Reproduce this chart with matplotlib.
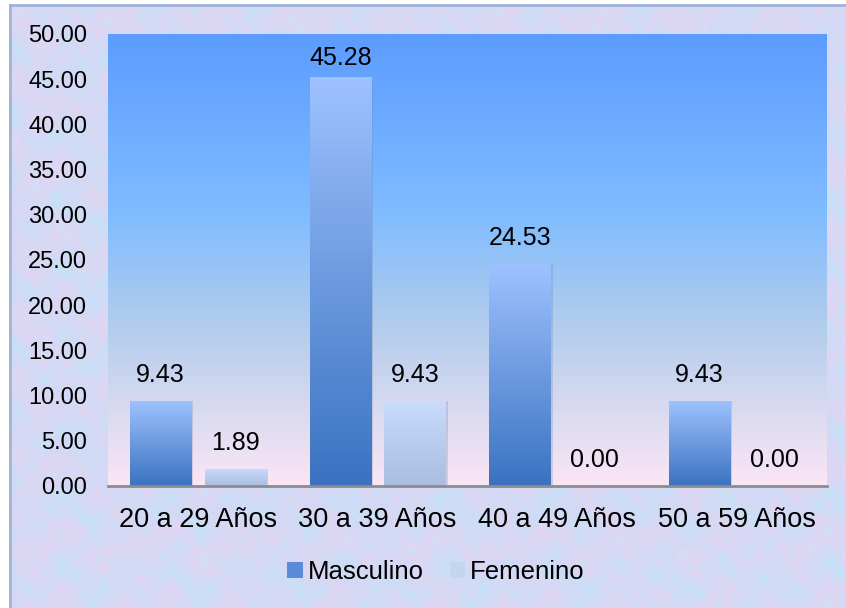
import numpy as np
import matplotlib.pyplot as plt
from matplotlib.colors import LinearSegmentedColormap
from matplotlib.patches import Patch, Rectangle

plt.rcParams['font.family'] = ['Liberation Sans', 'DejaVu Sans']

# Data
categories = ['20 a 29 Años', '30 a 39 Años', '40 a 49 Años', '50 a 59 Años']
masculino = [9.43, 45.28, 24.53, 9.43]
femenino = [1.89, 9.43, 0.00, 0.00]
series_names = ['Masculino', 'Femenino']
yticks = [0, 5, 10, 15, 20, 25, 30, 35, 40, 45, 50]

W, H = 846, 608
fig = plt.figure(figsize=(W / 100, H / 100), dpi=100)
fig.patch.set_facecolor('white')

# Textured chart background (decorative marble-like pattern)
bg = fig.add_axes([10 / W, 0, 1 - 10 / W, 1 - 5 / H])
yy, xx = np.mgrid[0:300, 0:420] / 10.0
t = (np.sin(xx * 1.3 + np.sin(yy * 2.1) * 1.8) + np.sin(yy * 1.7 + np.cos(xx * 2.3) * 1.4)
     + 0.5 * np.sin(xx * 4.7 - yy * 3.9 + np.cos(yy * 1.1)) + 0.4 * np.cos(xx * 6.9 + yy * 5.3))
t = (t - t.min()) / (t.max() - t.min())
tex_cmap = LinearSegmentedColormap.from_list(
    'tex', ['#c4e2f6', '#cfdcf6', '#d4d9f5', '#dfd6f2', '#d0def6'])
bg.imshow(t, cmap=tex_cmap, aspect='auto', interpolation='bilinear')
bg.set_xticks([])
bg.set_yticks([])
for side, sp in bg.spines.items():
    sp.set_visible(side in ('left', 'top'))
    sp.set_color('#9fb3d6')
    sp.set_linewidth(2)

# Plot area
ax = fig.add_axes([108 / W, (H - 486) / H, (827 - 108) / W, (486 - 34) / H])
ax.set_xlim(-0.5, len(categories) - 0.5)
ax.set_ylim(0, 50)

area_cmap = LinearSegmentedColormap.from_list(
    'area', [(0, '#fbe6f5'), (0.35, '#b3cdec'), (0.6, '#80bcff'), (1, '#5c9cff')])
ax.imshow(np.linspace(0, 1, 256).reshape(-1, 1), cmap=area_cmap, origin='lower',
          extent=(-0.5, len(categories) - 0.5, 0, 50), aspect='auto', zorder=0)

x = np.arange(len(categories))
bw = 0.34
off = 0.208
masc_cmap = LinearSegmentedColormap.from_list('m', ['#3a72c0', '#9ec2ff'])
fem_cmap = LinearSegmentedColormap.from_list('f', ['#a8bde0', '#c9dcfc'])

for vals, dx, cmap in [(masculino, -off, masc_cmap), (femenino, off, fem_cmap)]:
    bars = ax.bar(x + dx, vals, bw, color='none', edgecolor='none', zorder=3)
    for b, v in zip(bars, vals):
        if v > 0:
            x0, w, h = b.get_x(), b.get_width(), b.get_height()
            # soft shadow
            ax.add_patch(Rectangle((x0 + 0.012, 0), w, h, color='#6d7fa0',
                                   alpha=0.25, zorder=2, linewidth=0))
            im = ax.imshow(np.linspace(0, 1, 256).reshape(-1, 1), cmap=cmap,
                           origin='lower', extent=(x0, x0 + w, 0, h),
                           aspect='auto', zorder=3)
            im.set_clip_path(b)
        ax.text(b.get_x() + b.get_width() / 2, min(v + 2.88, 47.35), f'{v:.2f}',
                ha='center', va='center', fontsize=18, color='black', zorder=5)

ax.set_xlim(-0.5, len(categories) - 0.5)
ax.set_ylim(0, 50)
ax.set_yticks(yticks)
ax.set_yticklabels([f'{v:.2f}' for v in yticks])
ax.set_xticks(x)
ax.set_xticklabels(categories)
ax.tick_params(axis='y', length=0, pad=15, labelsize=17)
ax.tick_params(axis='x', length=0, pad=15, labelsize=19.5)
for side in ('left', 'top', 'right'):
    ax.spines[side].set_visible(False)
ax.spines['bottom'].set_color('#8c8c8c')
ax.spines['bottom'].set_linewidth(2)
ax.spines['bottom'].set_zorder(6)

handles = [Patch(facecolor='#5a8ad8', edgecolor='none'),
           Patch(facecolor='#c4d5f0', edgecolor='none')]
fig.legend(handles, series_names, loc='center', bbox_to_anchor=(436 / W, 1 - 572 / H),
           ncol=2, frameon=False, fontsize=18.5, handlelength=0.6, handleheight=0.6,
           handletextpad=0.2, columnspacing=1.0)

fig.savefig('out.png', dpi=100)
